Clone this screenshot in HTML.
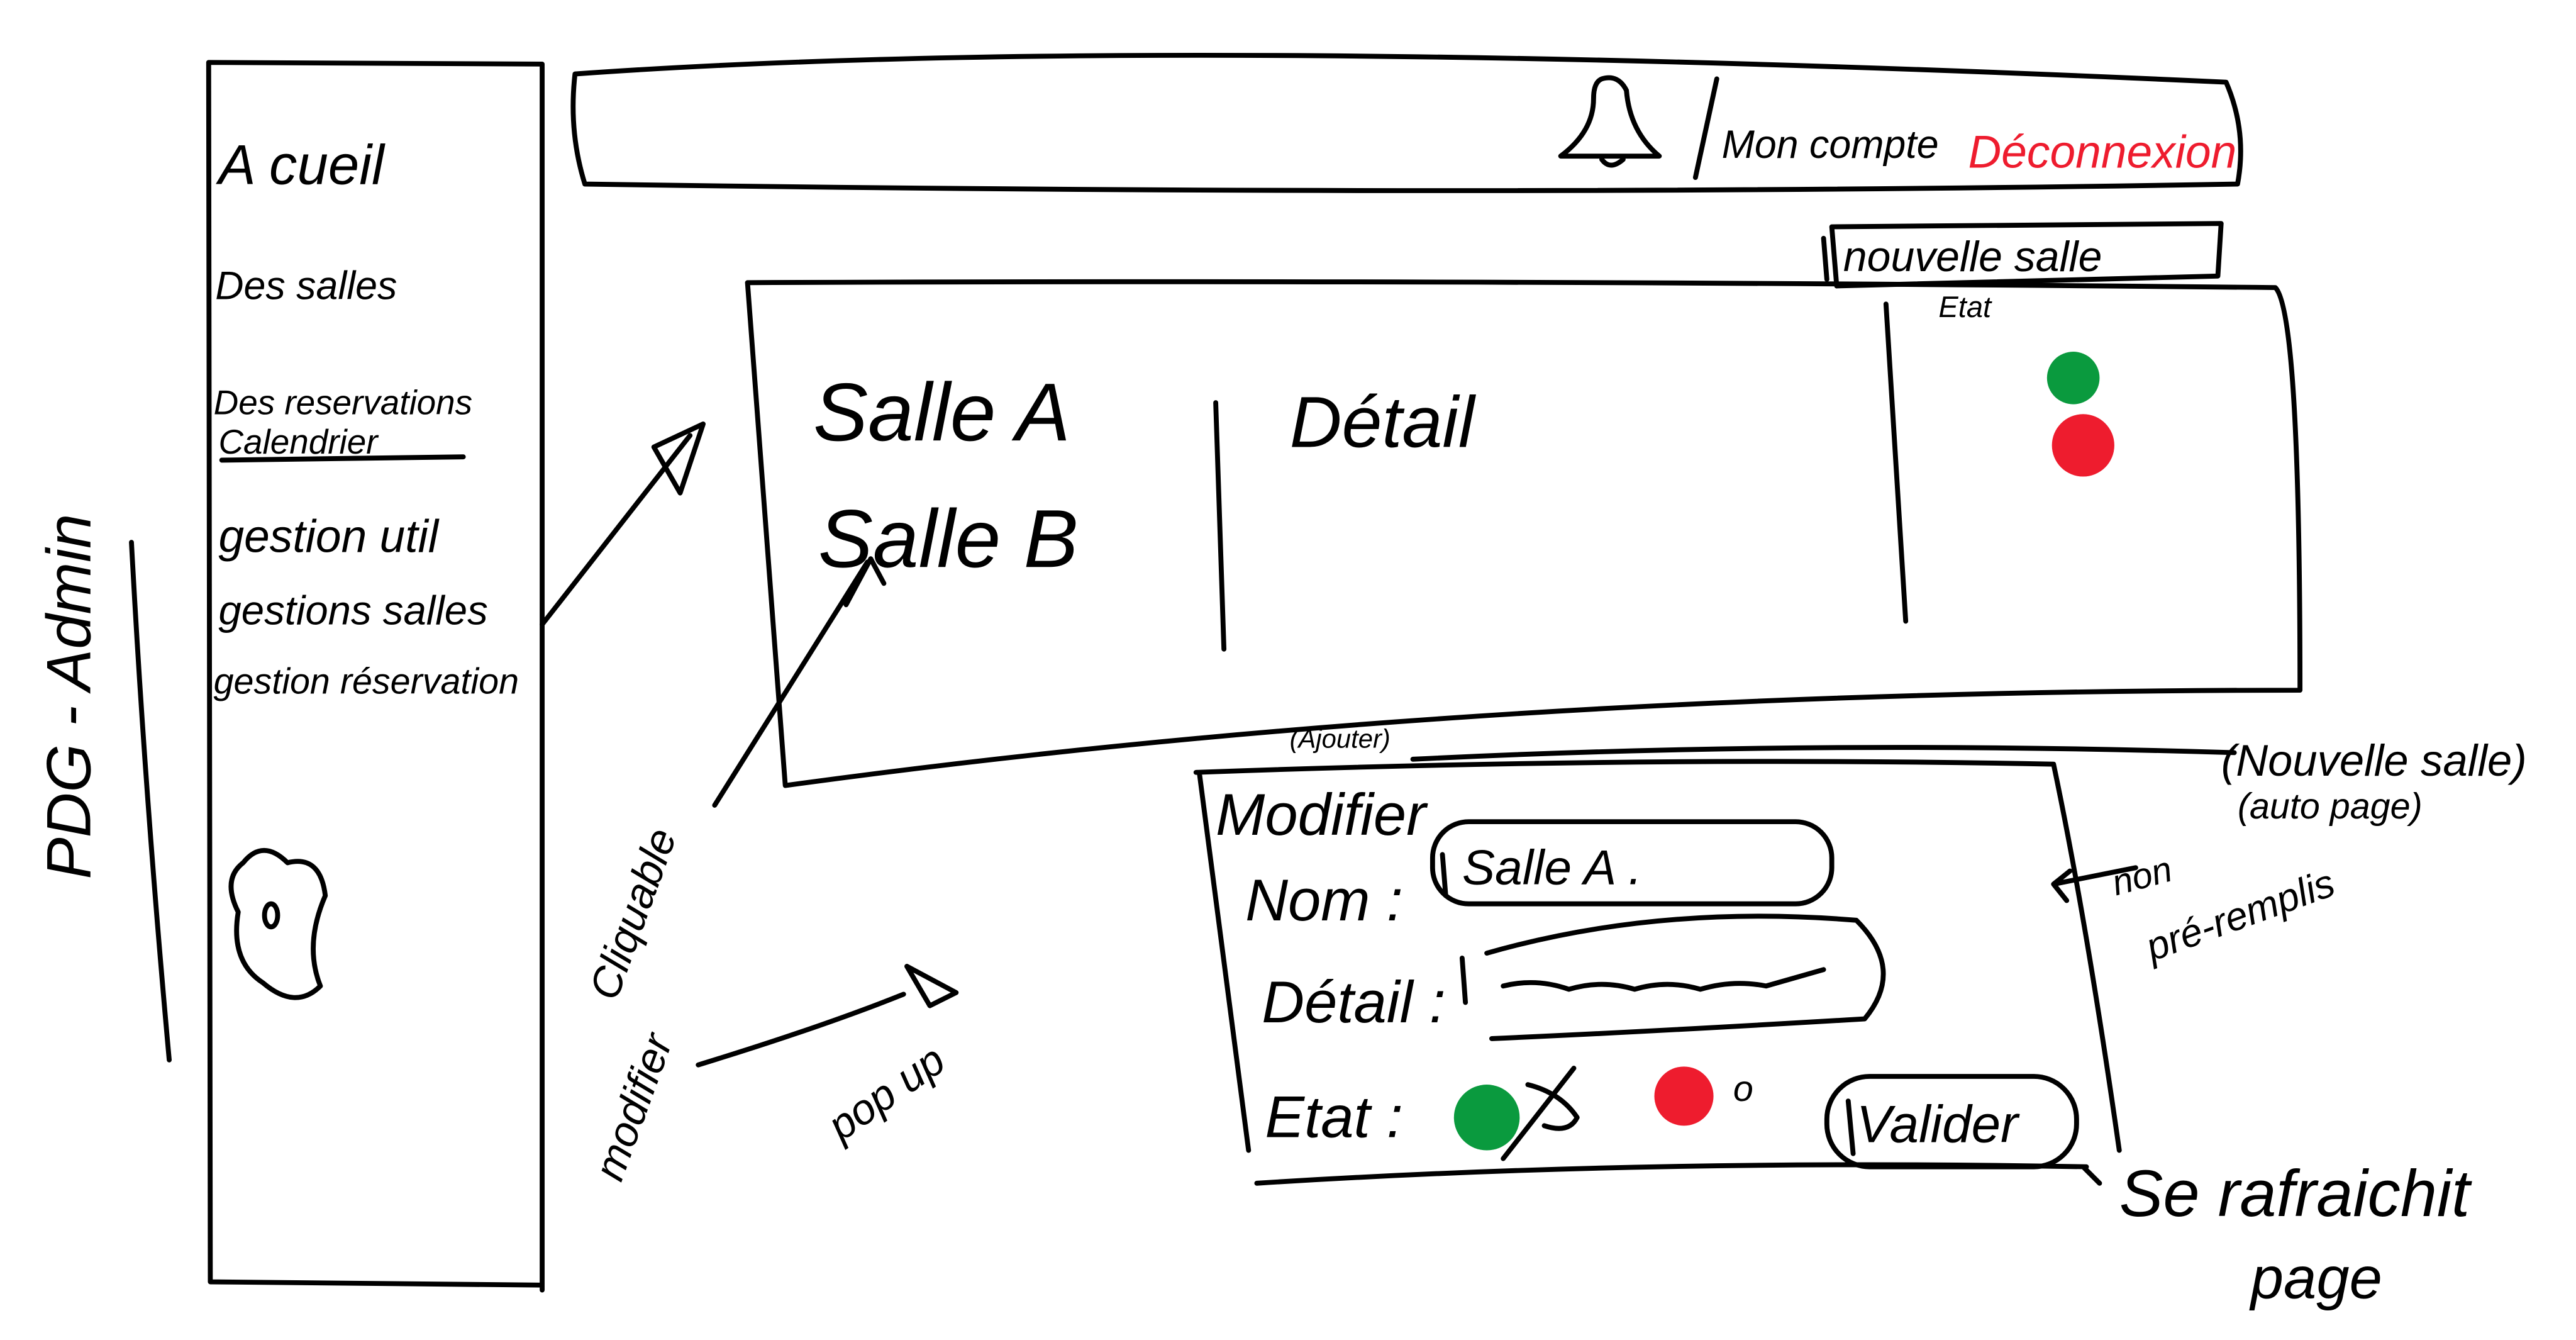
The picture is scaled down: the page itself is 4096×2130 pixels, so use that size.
<!DOCTYPE html>
<html><head><meta charset="utf-8"><style>
html,body{margin:0;padding:0;background:#fff;}
svg{display:block;}
text{font-family:"Liberation Sans",sans-serif;font-style:italic;fill:#000;}
</style></head><body>
<svg width="4096" height="2130" viewBox="0 0 1568 815.4" xmlns="http://www.w3.org/2000/svg">
<g fill="none" stroke="#000" stroke-width="3" stroke-linecap="round" stroke-linejoin="round">
<path d="M127 38 L128 780 M127 38 L330 39 L330 785 M128 780 L330 782"/>
<path d="M80 330 Q88 480 103 645"/>
<path d="M350 45 Q700 20 1355 50 Q1368 80 1362 112 Q900 120 356 112 Q346 80 350 45 Z"/>
<path d="M975 48 Q985 45 990 55 Q992 80 1010 95 L950 95 Q970 80 970 60 Q970 50 975 48 M975 97 Q980 104 988 97"/>
<path d="M1032 108 L1045 48"/>
<path d="M1115 138 L1352 136 L1350 168 L1118 174 Z M1110 145 L1112 170"/>
<path d="M455 172 Q900 170 1385 175 Q1400 190 1400 420 M455 172 L478 478 Q900 420 1400 420"/>
<path d="M740 245 L745 395 M1148 185 L1160 378"/>
<path d="M330 380 L420 265 M398 272 L428 258 L414 300 Z"/>
<path d="M435 490 L528 342 M515 368 L530 340 L538 355"/>
<path d="M728 470 Q1000 460 1250 465 Q1270 560 1290 700 M765 720 Q1000 705 1270 710 M730 470 L760 700 M1268 710 L1278 720"/>
<path d="M860 462 Q1100 450 1360 458"/>
<rect x="872" y="500" width="243" height="50" rx="22"/>
<path d="M878 520 L880 545 M905 580 Q1010 550 1130 560 Q1160 590 1135 620 Q1000 628 908 632 M890 583 L892 610"/>
<path d="M915 600 Q935 595 955 602 Q975 596 995 602 Q1015 596 1035 602 Q1055 596 1075 600 L1110 590"/>
<rect x="1112" y="655" width="152" height="55" rx="26"/>
<path d="M1125 670 L1128 702"/>
<path d="M915 705 L958 650 M930 660 Q950 665 960 680 Q955 690 940 685"/>
<path d="M1250 538 L1300 528 M1250 538 L1260 530 M1250 538 L1258 548"/>
<path d="M425 648 Q500 625 550 605 M552 588 L566 612 L582 604 Z"/>
<path d="M148 525 Q160 510 175 525 Q195 520 198 545 Q185 575 195 600 Q180 615 160 598 Q140 585 145 555 Q135 535 148 525 Z"/>
<ellipse cx="165" cy="557" rx="4" ry="7"/>
<path d="M135 280 L282 278"/>
</g>
<circle cx="1262" cy="230" r="16" fill="#0a9a3e"/>
<circle cx="1268" cy="271" r="19" fill="#ee1c2e"/>
<circle cx="905" cy="680" r="20" fill="#0a9a3e"/>
<circle cx="1025" cy="667" r="18" fill="#ee1c2e"/>
<text x="133" y="112" font-size="34">A cueil</text>
<text x="131" y="182" font-size="24">Des salles</text>
<text x="130" y="252" font-size="21">Des reservations</text>
<text x="133" y="276" font-size="21">Calendrier</text>
<text x="133" y="336" font-size="28">gestion util</text>
<text x="133" y="380" font-size="25">gestions salles</text>
<text x="130" y="422" font-size="22">gestion réservation</text>
<text transform="translate(55,535) rotate(-90)" font-size="38">PDG - Admin</text>
<text x="1048" y="96" font-size="24">Mon compte</text>
<text x="1198" y="102" font-size="28" style="fill:#ee1c2e">Déconnexion</text>
<text x="1122" y="165" font-size="26">nouvelle salle</text>
<text x="1180" y="193" font-size="18">Etat</text>
<text x="495" y="268" font-size="50">Salle A</text>
<text x="498" y="345" font-size="50">Salle B</text>
<text x="785" y="272" font-size="44">Détail</text>
<text x="785" y="455" font-size="16">(Ajouter)</text>
<text x="740" y="508" font-size="36">Modifier</text>
<text x="758" y="560" font-size="36">Nom :</text>
<text x="890" y="538" font-size="30">Salle A .</text>
<text x="768" y="622" font-size="36">Détail :</text>
<text x="770" y="692" font-size="36">Etat :</text>
<text x="1055" y="670" font-size="22">o</text>
<text x="1130" y="695" font-size="32">Valider</text>
<text x="1352" y="472" font-size="27">(Nouvelle salle)</text>
<text x="1362" y="498" font-size="22">(auto page)</text>
<text transform="translate(1288,545) rotate(-15)" font-size="22">non</text>
<text transform="translate(1310,585) rotate(-20)" font-size="24">pré-remplis</text>
<text x="1290" y="740" font-size="40">Se rafraichit</text>
<text x="1370" y="790" font-size="36">page</text>
<text transform="translate(375,610) rotate(-70)" font-size="26">Cliquable</text>
<text transform="translate(378,720) rotate(-70)" font-size="26">modifier</text>
<text transform="translate(512,695) rotate(-35)" font-size="26">pop up</text>
</svg>
</body></html>
